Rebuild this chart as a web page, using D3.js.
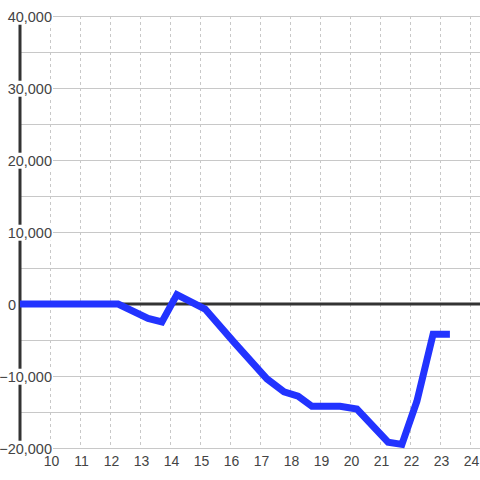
<!DOCTYPE html>
<html>
<head>
<meta charset="utf-8">
<script src="https://cdn.jsdelivr.net/npm/d3@7"></script>
<style>
  body { margin: 0; background: #fff; }
  svg { display: block; font-family: "Liberation Sans", Arial, sans-serif; }
</style>
</head>
<body>
<div id="chart"></div>
<script>
// hours of the day (x) and balance (y)
var hours  = [9, 12.27, 13.27, 13.73, 14.23, 15.17, 16.13, 17.23, 17.8, 18.27, 18.73, 19.67, 20.23, 21.27, 21.73, 22.23, 22.77, 23.33]
var values = [0, 0, -2000, -2500, 1300, -700, -5300, -10400, -12200, -12800, -14200, -14200, -14600, -19200, -19500, -13500, -4200, -4200]

var xTicks = [10, 11, 12, 13, 14, 15, 16, 17, 18, 19, 20, 21, 22, 23, 24]
var yTicks = [40000, 30000, 20000, 10000, 0, -10000, -20000]
var yGrid  = [40000, 35000, 30000, 25000, 20000, 15000, 10000, 5000, -5000, -10000, -15000, -20000]

var width = 480, height = 480

var x = d3.scaleLinear()
  .domain([9, 24.3333])
  .range([20, 480])

var y = d3.scaleLinear()
  .domain([40000, -20000])
  .range([16, 448])

var svg = d3.select("#chart")
  .append("svg")
    .attr("width", width)
    .attr("height", height)

// vertical dashed grid
svg.append("g")
  .selectAll("line")
  .data(xTicks)
  .enter()
  .append("line")
    .attr("x1", function(d) { return x(d) + 0.5 })
    .attr("x2", function(d) { return x(d) + 0.5 })
    .attr("y1", y(40000))
    .attr("y2", y(-20000))
    .attr("stroke", "#c8c8c8")
    .attr("stroke-dasharray", "3,3")

// horizontal grid
svg.append("g")
  .selectAll("line")
  .data(yGrid)
  .enter()
  .append("line")
    .attr("x1", x(9))
    .attr("x2", width)
    .attr("y1", function(d) { return Math.round(y(d)) + 0.5 })
    .attr("y2", function(d) { return Math.round(y(d)) + 0.5 })
    .attr("stroke", "#c8c8c8")

// left axis line
svg.append("line")
  .attr("x1", x(9))
  .attr("x2", x(9))
  .attr("y1", y(40000))
  .attr("y2", y(-20000))
  .attr("stroke", "#333")
  .attr("stroke-width", 3)

// zero line
svg.append("line")
  .attr("x1", x(9))
  .attr("x2", width)
  .attr("y1", y(0))
  .attr("y2", y(0))
  .attr("stroke", "#333")
  .attr("stroke-width", 3)

// y labels with white boxes
var yAxis = svg.append("g")
  .attr("transform", "translate(53,0)")
  .call(d3.axisLeft(y).tickValues(yTicks).tickSize(0).tickPadding(1).tickFormat(d3.format(",")))
yAxis.select(".domain").remove()
yAxis.selectAll(".tick text")
  .attr("fill", "#444")
  .attr("dy", "0.36em")
  .style("font-size", "14.5px")
  .style("font-family", "Liberation Sans, Arial, sans-serif")
// the zero label sits just left of the axis line
yAxis.selectAll(".tick")
  .filter(function(d) { return d === 0 })
  .select("text")
    .attr("x", x(9) - 4 - 53)
yAxis.selectAll(".tick").each(function() {
  var t = d3.select(this).select("text")
  var bb = t.node().getBBox()
  d3.select(this).insert("rect", "text")
    .attr("x", bb.x - 1)
    .attr("y", bb.y)
    .attr("width", bb.width + 2)
    .attr("height", bb.height)
    .attr("fill", "#fff")
})

// x labels
var xAxis = svg.append("g")
  .attr("transform", "translate(1," + (y(-20000) + 3) + ")")
  .call(d3.axisBottom(x).tickValues(xTicks).tickSize(0).tickPadding(5).tickFormat(d3.format("d")))
xAxis.select(".domain").remove()
xAxis.selectAll(".tick text")
  .attr("fill", "#444")
  .style("font-size", "14px")
  .style("font-family", "Liberation Sans, Arial, sans-serif")

// data line
var line = d3.line()
  .x(function(d, i) { return x(hours[i]) })
  .y(function(d) { return y(d) })

svg.append("path")
  .datum(values)
  .attr("d", line)
  .attr("fill", "none")
  .attr("stroke", "#2233ff")
  .attr("stroke-width", 7)
  .attr("stroke-linejoin", "miter")
</script>
</body>
</html>
